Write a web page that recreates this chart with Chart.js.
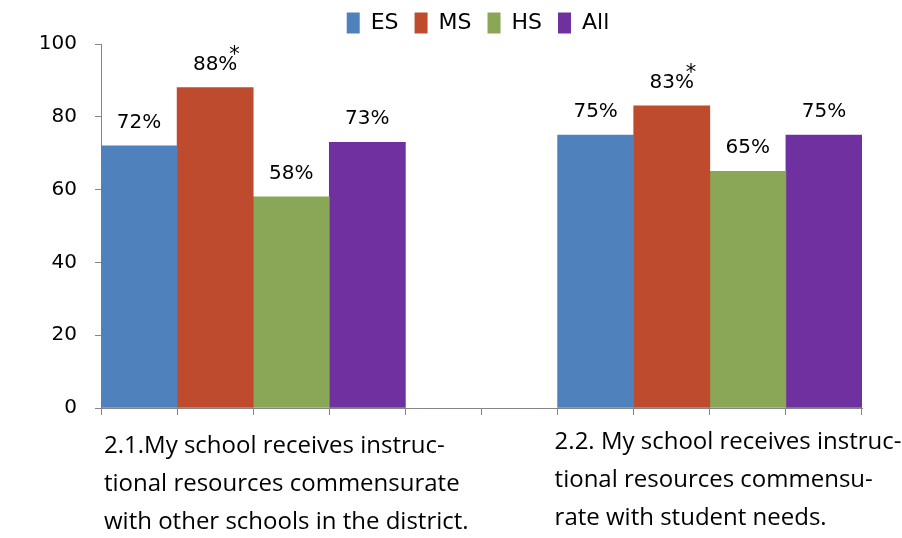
<!DOCTYPE html>
<html>
<head>
<meta charset="utf-8">
<script src="https://cdn.jsdelivr.net/npm/chart.js@4.4.1/dist/chart.umd.min.js"></script>
<style>
html,body{margin:0;padding:0;background:#fff;}
#wrap{width:902px;height:538px;}
</style>
</head>
<body>
<div id="wrap"><canvas id="c" width="902" height="538"></canvas></div>
<script>
// ---- data ----
const seriesNames = ['ES', 'MS', 'HS', 'All'];
const esValues  = [72, 75];
const msValues  = [88, 83];
const hsValues  = [58, 65];
const allValues = [73, 75];
const msSignificant = [true, true];
const categoryLabels = [
  ['2.1.My school receives instruc-', 'tional resources commensurate', 'with other schools in the district.'],
  ['2.2. My school receives instruc-', 'tional resources commensu-', 'rate with student needs.']
];
const yTicks = [0, 20, 40, 60, 80, 100];

// ---- layout of slots (4 bars, 2 empty, 4 bars) ----
const colors = ['#4F81BD', '#BE4B2E', '#8AA657', '#7031A0'];
const allSeries = [esValues, msValues, hsValues, allValues];
const groupStart = [0, 6];
const slotCount = 10;
const slots = Array.from({length: slotCount}, () => '');

const datasets = seriesNames.map((name, si) => {
  const data = new Array(slotCount).fill(null);
  groupStart.forEach((g, gi) => { data[g + si] = allSeries[si][gi]; });
  return {
    label: name,
    data,
    backgroundColor: colors[si],
    borderWidth: 0,
    skipNull: true,
    barPercentage: 1,
    categoryPercentage: 1
  };
});

const NUMFONT = "'DejaVu Sans', sans-serif";
const CATFONT = "'Open Sans', 'DejaVu Sans', sans-serif";

const legendShift = {
  id: 'legendShift',
  afterLayout(chart) {
    const l = chart.legend;
    if (!l) return;
    l.left += 47; l.right += 47;
  }
};

const valueLabels = {
  id: 'valueLabels',
  afterDatasetsDraw(chart) {
    const ctx = chart.ctx;
    ctx.save();
    ctx.fillStyle = '#000';
    ctx.font = '20px ' + NUMFONT;
    ctx.textAlign = 'center';
    ctx.textBaseline = 'alphabetic';
    chart.data.datasets.forEach((ds, di) => {
      const meta = chart.getDatasetMeta(di);
      meta.data.forEach((el, i) => {
        const v = ds.data[i];
        if (v === null) return;
        const txt = v + '%';
        const ty = el.y - 18;
        ctx.fillText(txt, el.x, ty);
        const gi = groupStart.findIndex(g => i >= g && i < g + 4);
        if (di === 1 && msSignificant[gi]) {
          const w = ctx.measureText(txt).width;
          ctx.save();
          ctx.font = '21px ' + NUMFONT;
          ctx.fillText('*', el.x + w / 2 - 3, ty - 9);
          ctx.restore();
        }
      });
    });
    ctx.restore();
  }
};

const groupLabels = {
  id: 'groupLabels',
  afterDraw(chart) {
    const x = chart.scales.x;
    const y = chart.scales.y;
    const ctx = chart.ctx;
    const slotW = (x.right - x.left) / slotCount;
    ctx.save();
    ctx.fillStyle = '#000';
    ctx.font = '24px ' + CATFONT;
    ctx.textAlign = 'left';
    ctx.textBaseline = 'middle';
    const offs = [3, -3];
    const firstLine = [38, 34];
    categoryLabels.forEach((lines, gi) => {
      const left = x.getPixelForValue(groupStart[gi]) - slotW / 2 + offs[gi];
      lines.forEach((ln, li) => {
        ctx.fillText(ln, left, y.bottom + firstLine[gi] + li * 38);
      });
    });
    ctx.restore();
  }
};

new Chart(document.getElementById('c'), {
  type: 'bar',
  data: { labels: slots, datasets },
  options: {
    responsive: false,
    animation: false,
    layout: { padding: { left: 0, right: 40, top: -4, bottom: 0 } },
    plugins: {
      legend: {
        position: 'top',
        align: 'center',
        labels: {
          boxWidth: 13,
          boxHeight: 21,
          color: '#000',
          font: { size: 22, family: NUMFONT },
          padding: 16
        }
      },
      tooltip: { enabled: false }
    },
    scales: {
      x: {
        type: 'category',
        offset: true,
        grid: { display: true, offset: true, drawOnChartArea: false, drawTicks: true, tickLength: 7, color: '#868686' },
        border: { display: true, color: '#868686', width: 1 },
        ticks: { display: false },
        afterFit(s) { s.height = 130; }
      },
      y: {
        min: 0, max: 100,
        afterBuildTicks(s) { s.ticks = yTicks.map(v => ({ value: v })); },
        grid: { display: true, drawOnChartArea: false, drawTicks: true, tickLength: 6, color: '#868686' },
        border: { display: true, color: '#868686', width: 1 },
        ticks: { color: '#000', font: { size: 20, family: NUMFONT }, padding: 18 },
        afterFit(s) { s.width = 101; }
      }
    }
  },
  plugins: [legendShift, valueLabels, groupLabels]
});
</script>
</body>
</html>
